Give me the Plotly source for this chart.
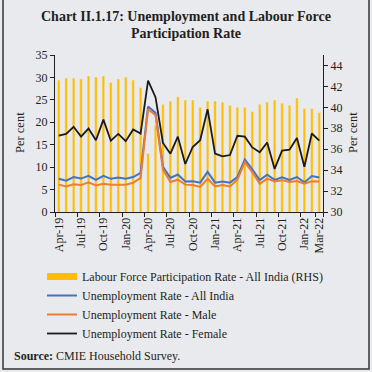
import plotly.graph_objects as go

months = ["Apr-19", "May-19", "Jun-19", "Jul-19", "Aug-19", "Sep-19", "Oct-19", "Nov-19", "Dec-19",
          "Jan-20", "Feb-20", "Mar-20", "Apr-20", "May-20", "Jun-20", "Jul-20", "Aug-20", "Sep-20",
          "Oct-20", "Nov-20", "Dec-20", "Jan-21", "Feb-21", "Mar-21", "Apr-21", "May-21", "Jun-21",
          "Jul-21", "Aug-21", "Sep-21", "Oct-21", "Nov-21", "Dec-21", "Jan-22", "Feb-22", "Mar-22"]

lfpr = [42.6, 42.8, 42.8, 42.7, 43.0, 42.9, 43.0, 42.4, 42.7, 42.9, 42.6, 41.9,
        35.6, 38.3, 40.3, 40.6, 41.0, 40.7, 40.7, 40.0, 40.6, 40.6, 40.5, 40.2,
        40.0, 40.0, 39.6, 40.3, 40.5, 40.7, 40.4, 40.2, 40.9, 39.9, 39.9, 39.5]

unemp_all = [7.4, 7.0, 7.8, 7.45, 8.05, 7.15, 8.05, 7.4, 7.7, 7.4, 7.8, 8.7,
             23.5, 22.1, 10.1, 7.6, 8.35, 6.8, 6.85, 6.55, 8.95, 6.55, 6.8, 6.55,
             7.8, 11.7, 9.5, 7.1, 8.3, 7.15, 7.75, 7.15, 7.8, 6.6, 8.0, 7.7]

unemp_male = [6.1, 5.7, 6.2, 6.0, 6.6, 5.9, 6.3, 6.1, 6.1, 6.1, 6.5, 7.6,
              22.9, 21.6, 9.5, 6.7, 7.2, 6.1, 6.0, 5.6, 7.4, 5.7, 6.0, 5.7,
              7.2, 11.1, 8.9, 6.3, 7.45, 6.8, 7.1, 6.7, 6.9, 6.3, 6.85, 6.8]

unemp_female = [17.0, 17.4, 19.0, 16.8, 18.6, 16.0, 20.6, 15.9, 17.4, 15.8, 18.4, 17.5,
                29.3, 25.6, 15.4, 13.0, 16.8, 10.7, 14.5, 16.0, 22.9, 13.0, 12.4, 12.7,
                17.0, 16.8, 14.4, 13.3, 15.5, 9.6, 13.7, 13.9, 16.5, 10.1, 17.5, 15.9]

x_ticks = ["Apr-19", "Jul-19", "Oct-19", "Jan-20", "Apr-20", "Jul-20", "Oct-20",
           "Jan-21", "Apr-21", "Jul-21", "Oct-21", "Jan-22", "Mar-22"]

BG = "#E9EAEE"
TXT = "#231F20"
SERIF = "Liberation Serif, Times New Roman, serif"
BAR_C = "#FFBF00"

W, H = 372, 372
ML, MR, MT, MB = 55, 49, 55, 160
PW, PH = W - ML - MR, H - MT - MB


def px_x(px):
    return (px - ML) / PW


def px_y(py):
    return (H - MB - py) / PH


fig = go.Figure()

fig.add_trace(go.Bar(x=months, y=lfpr, yaxis="y", marker_color=BAR_C, width=0.36,
                     showlegend=False, name="LFPR"))
fig.add_trace(go.Scatter(x=[None], y=[None], yaxis="y2", mode="lines",
                         line=dict(color=BAR_C, width=7),
                         name="Labour Force Participation Rate - All India (RHS)"))
fig.add_trace(go.Scatter(x=months, y=unemp_all, yaxis="y2", mode="lines",
                         line=dict(color="#4472C4", width=2),
                         name="Unemployment Rate - All India"))
fig.add_trace(go.Scatter(x=months, y=unemp_male, yaxis="y2", mode="lines",
                         line=dict(color="#ED7D31", width=2),
                         name="Unemployment Rate - Male"))
fig.add_trace(go.Scatter(x=months, y=unemp_female, yaxis="y2", mode="lines",
                         line=dict(color="#1A1A1A", width=1.8),
                         name="Unemployment Rate - Female"))

tickfont = dict(family=SERIF, size=12, color=TXT)

fig.update_layout(
    width=W, height=H,
    margin=dict(l=ML, r=MR, t=MT, b=MB, pad=0),
    paper_bgcolor=BG, plot_bgcolor=BG,
    bargap=0.6,
    hovermode=False,
    xaxis=dict(type="category", categoryorder="array", categoryarray=months,
               range=[-0.5, 35.5], tickmode="array", tickvals=x_ticks, ticktext=x_ticks,
               tickangle=-90, tickson="boundaries", ticks="outside", ticklen=4,
               tickcolor=TXT, showline=True, linecolor=TXT, linewidth=1,
               showgrid=False, tickfont=tickfont),
    yaxis=dict(side="right", range=[30, 45], tickmode="linear", tick0=30, dtick=2,
               showgrid=False, zeroline=False, showline=True, linecolor=TXT, linewidth=1,
               ticks="outside", ticklen=4, tickcolor=TXT, tickfont=tickfont),
    yaxis2=dict(side="left", overlaying="y", range=[0, 35], tickmode="linear", tick0=0, dtick=5,
                showgrid=False, zeroline=False, showline=True, linecolor=TXT, linewidth=1,
                ticks="outside", ticklen=4, tickcolor=TXT, tickfont=tickfont),
    legend=dict(x=px_x(42), y=px_y(262), xanchor="left", yanchor="top",
                font=dict(family=SERIF, size=12, color=TXT), bgcolor="rgba(0,0,0,0)",
                tracegroupgap=0, traceorder="normal"),
    annotations=[
        dict(text="<b>Chart II.1.17: Unemployment and Labour Force</b>",
             x=px_x(186), y=px_y(16), xref="paper", yref="paper", xanchor="center", yanchor="middle",
             showarrow=False, font=dict(family=SERIF, size=14, color=TXT)),
        dict(text="<b>Participation Rate</b>",
             x=px_x(186), y=px_y(33), xref="paper", yref="paper", xanchor="center", yanchor="middle",
             showarrow=False, font=dict(family=SERIF, size=14, color=TXT)),
        dict(text="Per cent", x=px_x(20), y=px_y(133), xref="paper", yref="paper",
             textangle=-90, showarrow=False, xanchor="center", yanchor="middle",
             font=dict(family=SERIF, size=12.5, color=TXT)),
        dict(text="Per cent", x=px_x(353), y=px_y(133), xref="paper", yref="paper",
             textangle=-90, showarrow=False, xanchor="center", yanchor="middle",
             font=dict(family=SERIF, size=12.5, color=TXT)),
        dict(text="<b>Source:</b> CMIE Household Survey.", x=px_x(12), y=px_y(356),
             xref="paper", yref="paper", xanchor="left", yanchor="middle", showarrow=False,
             font=dict(family=SERIF, size=12, color=TXT)),
    ],
    shapes=[
        dict(type="rect", xref="paper", yref="paper",
             x0=px_x(3), x1=px_x(369), y0=px_y(369), y1=px_y(-2),
             line=dict(color="#333333", width=1.5), fillcolor="rgba(0,0,0,0)"),
    ],
)

fig.write_html("out.html", config={"displayModeBar": False},
               post_script="document.body.style.margin='0';")
